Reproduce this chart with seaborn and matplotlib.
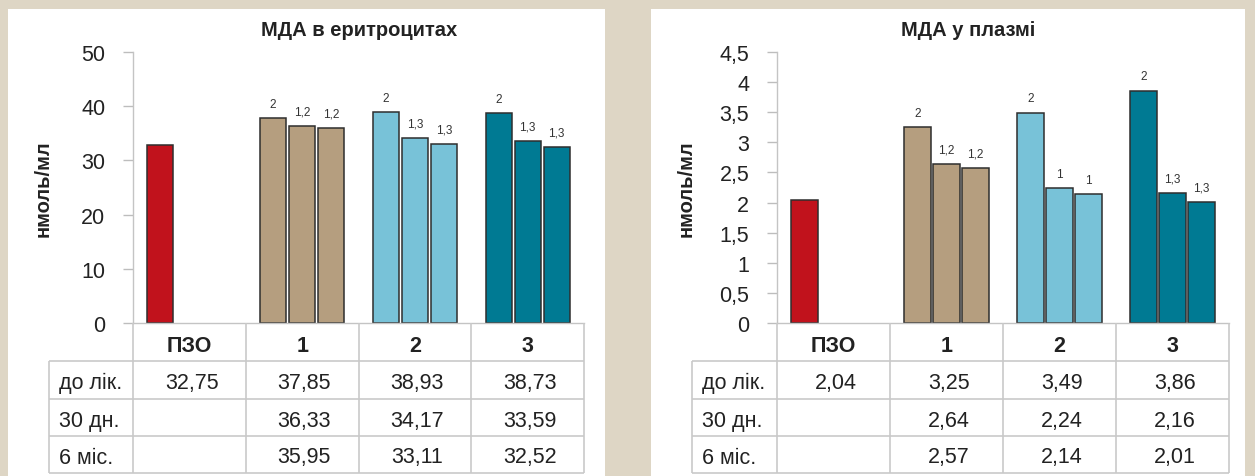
import numpy as np
import pandas as pd
import seaborn as sns
import matplotlib.pyplot as plt
from matplotlib.patches import Rectangle
from matplotlib.ticker import FuncFormatter

# --- data ---
categories = ['ПЗО', '1', '2', '3']
periods = ['до лік.', '30 дн.', '6 міс.']

ery_before = [32.75, 37.85, 38.93, 38.73]
ery_30d = [np.nan, 36.33, 34.17, 33.59]
ery_6m = [np.nan, 35.95, 33.11, 32.52]
ery_marks = [['', '', ''], ['2', '1,2', '1,2'], ['2', '1,3', '1,3'], ['2', '1,3', '1,3']]

plasma_before = [2.04, 3.25, 3.49, 3.86]
plasma_30d = [np.nan, 2.64, 2.24, 2.16]
plasma_6m = [np.nan, 2.57, 2.14, 2.01]
plasma_marks = [['', '', ''], ['2', '1,2', '1,2'], ['2', '1', '1'], ['2', '1,3', '1,3']]

cat_colors = ['#c1121c', '#b59e7f', '#78c2d8', '#007a93']

W, H = 1255, 477
BG = '#ded6c5'
GRID = '#c9c9c9'
TXT = '#222222'

sns.set_theme(style='white')
plt.rcParams['font.family'] = ['Liberation Sans', 'DejaVu Sans']


def comma(v, dec=2):
    s = f'{v:.{dec}f}' if dec else f'{v:g}'
    return s.replace('.', ',')


def px_axes(fig, x0, y0, x1, y1):
    return fig.add_axes([x0 / W, 1 - y1 / H, (x1 - x0) / W, (y1 - y0) / H])


def draw_panel(fig, x_axis, x_table, x_right, title, title_x, series, marks, ymax, ystep):
    y_top, y_zero, y_bottom = 53, 324, 475
    ax = px_axes(fig, x_axis, y_top, x_right, y_zero)

    df = pd.DataFrame({
        'cat': np.repeat(categories, len(periods)),
        'period': periods * len(categories),
        'value': np.array(series).T.ravel(),
    })
    sns.barplot(data=df, x='cat', y='value', hue='period', order=categories,
                hue_order=periods, width=0.77, gap=0.1, ax=ax,
                edgecolor='#2e2e2e', linewidth=1.1, legend=False, errorbar=None)

    # colour bars by group, put significance marks on top
    for k, cont in enumerate(ax.containers):
        labels = []
        for bar in cont:
            ci = int(round(bar.get_x() + bar.get_width() / 2))
            bar.set_facecolor(cat_colors[ci])
            labels.append(marks[ci][k])
        ax.bar_label(cont, labels=labels, padding=6, fontsize=8.5, color='#333333')

    ax.set_xlim(-0.5, 3.5)
    ax.set_ylim(0, ymax)
    ax.set_yticks(np.arange(0, ymax + ystep / 2, ystep))
    ax.yaxis.set_major_formatter(FuncFormatter(lambda v, p: comma(v, 0) if float(v).is_integer() else comma(v, 1)))
    ax.tick_params(axis='y', length=7, width=1, color='#bdbdbd', labelsize=15.5,
                   labelcolor=TXT, pad=13, left=True)
    ax.tick_params(axis='x', bottom=False, labelbottom=False)
    ax.set_xlabel('')
    ax.set_ylabel('нмоль/мл', fontsize=14.5, fontweight='bold', color=TXT)
    ax.yaxis.set_label_coords((x_table + 4 - x_axis) / (x_right - x_axis), 0.5)
    for side in ['top', 'right']:
        ax.spines[side].set_visible(False)
    for side in ['left', 'bottom']:
        ax.spines[side].set_color('#c4c4c4')
        ax.spines[side].set_linewidth(1)
    ax.patch.set_alpha(0)

    fig.text(title_x / W, 1 - 30 / H, title, ha='center', va='center',
             fontsize=14.5, fontweight='bold', color=TXT)

    # data table under the chart
    unit = (x_right - x_axis) / len(categories)
    left = -0.5 - (x_axis - x_table) / unit
    tb = px_axes(fig, x_table, y_zero, x_right, y_bottom)
    tb.set_xlim(left, 3.5)
    tb.set_ylim(y_bottom - y_zero, 0)
    tb.axis('off')
    rows = [0, 38, 76, 113, 150]
    tb.hlines(rows[1:], left, 3.5, color=GRID, lw=1.2, clip_on=False)
    tb.vlines([left], rows[1], rows[-1], color=GRID, lw=1.2, clip_on=False)
    tb.vlines(np.arange(len(categories) + 1) - 0.5, rows[0], rows[-1], color=GRID, lw=1.2, clip_on=False)
    for i, c in enumerate(categories):
        tb.text(i, (rows[0] + rows[1]) / 2 + 4, c, ha='center', va='center',
                fontsize=15.5, fontweight='bold', color=TXT)
    for r, name in enumerate(periods):
        ym = (rows[r + 1] + rows[r + 2]) / 2 + 2.5
        tb.text(left + 0.09, ym, name, ha='left', va='center', fontsize=15.5, color=TXT)
        for i, v in enumerate(series[r]):
            if not np.isnan(v):
                tb.text(i + 0.02, ym, comma(v), ha='center', va='center', fontsize=15.5, color=TXT)


fig = plt.figure(figsize=(W / 100, H / 100), dpi=100, facecolor=BG)
for x0, x1 in [(8, 605), (651, 1245)]:
    fig.add_artist(Rectangle((x0 / W, 0), (x1 - x0) / W, 1 - 10 / H, transform=fig.transFigure,
                             facecolor='white', edgecolor='none', zorder=-10))

draw_panel(fig, 133, 49, 584, 'МДА в еритроцитах', 359,
           [ery_before, ery_30d, ery_6m], ery_marks, 50, 10)
draw_panel(fig, 777, 692, 1229, 'МДА у плазмі', 968,
           [plasma_before, plasma_30d, plasma_6m], plasma_marks, 4.5, 0.5)

fig.savefig('out.png', dpi=100, facecolor=BG)
